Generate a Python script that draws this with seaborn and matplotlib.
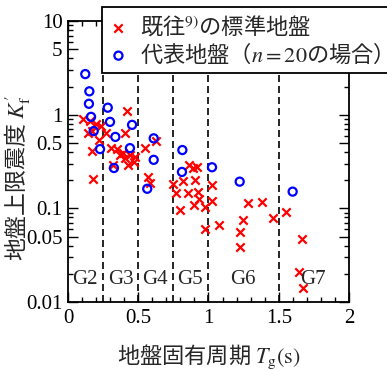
import matplotlib
matplotlib.use('Agg')
import matplotlib.pyplot as plt
import matplotlib.ticker as mticker
import seaborn as sns

sns.set_style('ticks', {'axes.edgecolor': 'black', 'xtick.color': 'black', 'ytick.color': 'black',
                        'xtick.direction': 'in', 'ytick.direction': 'in'})
plt.rcParams['font.family'] = ['Liberation Serif', 'Noto Sans CJK JP']
plt.rcParams['mathtext.fontset'] = 'stix'
plt.rcParams['font.size'] = 15

# 既往の標準地盤 (赤 x)
red_x = [0.107, 0.157, 0.199, 0.235, 0.142, 0.171, 0.221, 0.171, 0.178,
         0.270, 0.420, 0.406, 0.306, 0.349, 0.370, 0.391, 0.406, 0.441, 0.477, 0.470, 0.427, 0.320,
         0.548, 0.626, 0.569, 0.584,
         0.747, 0.769, 0.797, 0.819, 0.861, 0.890, 0.918, 0.904, 0.854, 0.925, 0.932, 0.897, 0.975,
         1.025, 1.025, 1.075, 0.975,
         1.281, 1.381, 1.246, 1.224, 1.224, 1.459, 1.552, 1.665, 1.644, 1.673]
red_y = [0.90, 0.857, 0.796, 0.757, 0.638, 0.67, 0.537, 0.409, 0.206,
         0.638, 1.095, 0.638, 0.441, 0.430, 0.371, 0.390, 0.345, 0.371, 0.354, 0.313, 0.290, 0.290,
         0.441, 0.524, 0.216, 0.187,
         0.182, 0.146, 0.096, 0.196, 0.290, 0.270, 0.277, 0.201, 0.146, 0.150, 0.126, 0.109, 0.103,
         0.178, 0.120, 0.0665, 0.0602,
         0.114, 0.117, 0.0752, 0.056, 0.0387, 0.079, 0.092, 0.0471, 0.0209, 0.0141]

# 代表地盤 (青 o, n=20)
blue_x = [0.123, 0.152, 0.149, 0.164, 0.183, 0.228, 0.283, 0.299, 0.337, 0.327,
          0.456, 0.441, 0.610, 0.610, 0.564, 0.814, 0.811, 1.025, 1.222, 1.599]
blue_y = [2.72, 1.78, 1.31, 0.95, 0.67, 0.43, 1.19, 0.84, 0.58, 0.27,
          0.78, 0.44, 0.56, 0.33, 0.162, 0.42, 0.245, 0.275, 0.193, 0.151]

bounds = [0.25, 0.5, 0.75, 1.0, 1.5]
g_labels = ['G2', 'G3', 'G4', 'G5', 'G6', 'G7']
g_x = [0.12, 0.377, 0.62, 0.87, 1.245, 1.745]
g_y = 0.0172

y_ticks = [0.01, 0.05, 0.1, 0.5, 1, 5, 10]
y_ticklabels = ['0.01', '0.05', '0.1', '0.5', '1', '5', '10']

fig = plt.figure(figsize=(3.87, 3.71), dpi=100)
ax = fig.add_axes([0.1757, 0.186, 0.7261, 0.757])

for b in bounds:
    ax.axvline(b, color='black', ls=(0, (4.2, 2.4)), lw=1.2, zorder=1)

sns.scatterplot(x=red_x, y=red_y, marker='x', color='red', s=36, linewidth=1.6,
                label='既往$^{\\mathrm{9)}}$の標準地盤', ax=ax, zorder=3)
sns.scatterplot(x=blue_x, y=blue_y, marker='o', facecolors='none', edgecolor='blue', s=34,
                linewidth=1.6, label='代表地盤（$n{=}20$の場合）', ax=ax, zorder=3)

for lab, gx in zip(g_labels, g_x):
    ax.text(gx, g_y, lab, ha='center', va='center', fontsize=15)

ax.set_xlim(0, 2)
ax.set_yscale('log')
ax.set_ylim(0.01, 10)
ax.xaxis.set_major_locator(mticker.MultipleLocator(0.5))
ax.xaxis.set_minor_locator(mticker.MultipleLocator(0.1))
ax.xaxis.set_major_formatter(mticker.FuncFormatter(lambda v, _: f'{v:g}'))
ax.yaxis.set_major_locator(mticker.FixedLocator(y_ticks))
ax.yaxis.set_major_formatter(mticker.FixedFormatter(y_ticklabels))
ax.yaxis.set_minor_locator(mticker.LogLocator(subs=[2, 3, 4, 6, 7, 8, 9]))
ax.yaxis.set_minor_formatter(mticker.NullFormatter())
ax.tick_params(which='both', direction='in', top=True, right=True, width=1.0)
ax.tick_params(which='major', length=7)
ax.tick_params(which='minor', length=3.5)
ax.tick_params(axis='x', pad=5)
ax.tick_params(axis='y', pad=4)
for sp in ax.spines.values():
    sp.set_linewidth(1.3)

ax.set_xlabel('地盤固有周期 $T_{\\mathrm{g}}\\mathrm{(s)}$', fontfamily='Noto Sans CJK JP', fontsize=16)
ax.xaxis.label.set_va('center')
ax.xaxis.set_label_coords(0.5, -0.196)
ax.set_ylabel("地盤上限震度 $K_{\\mathrm{f}}'$", fontfamily='Noto Sans CJK JP', fontsize=16.5)
ax.yaxis.label.set_va('center')
ax.yaxis.set_label_coords(-0.182, 0.44)

leg = ax.legend(loc='upper left', bbox_to_anchor=(0.263, 0.981), bbox_transform=fig.transFigure,
                prop={'family': 'Noto Sans CJK JP', 'size': 16}, frameon=True, fancybox=False,
                borderpad=0.3, borderaxespad=0, handlelength=0.9, handletextpad=0.5,
                labelspacing=0.12, framealpha=1)
leg.get_frame().set_edgecolor('black')
leg.get_frame().set_linewidth(1.3)

plt.savefig('out.png', dpi=100)
plt.close()
